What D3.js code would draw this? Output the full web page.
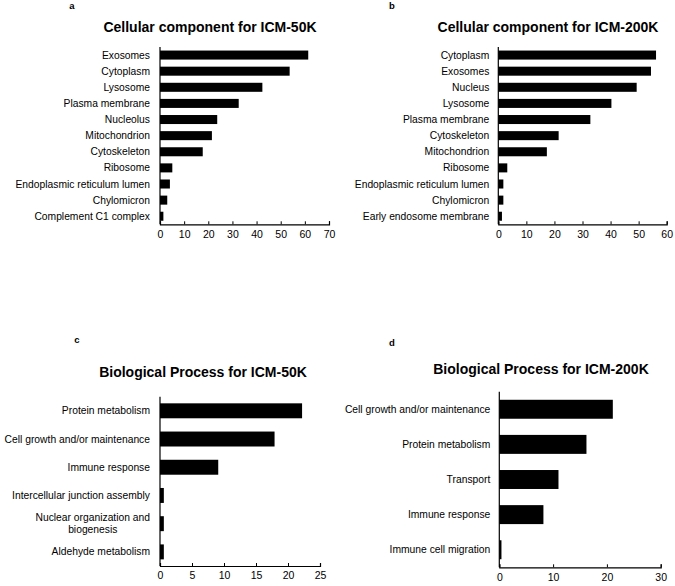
<!DOCTYPE html>
<html><head><meta charset="utf-8">
<script src="https://cdn.jsdelivr.net/npm/d3@7"></script>
<style>body{margin:0;background:#fff}svg{display:block;font-family:"Liberation Sans",Arial,sans-serif}</style>
</head><body><svg id="c" width="675" height="586"></svg>
<script>
const catsA = ["Exosomes","Cytoplasm","Lysosome","Plasma membrane","Nucleolus","Mitochondrion","Cytoskeleton","Ribosome","Endoplasmic reticulum lumen","Chylomicron","Complement C1 complex"];
const valsA = [61.4,53.7,42.4,32.6,23.7,21.5,17.7,5.1,4.1,3.0,1.4];
const ticksA = [0,10,20,30,40,50,60,70];

const catsB = ["Cytoplasm","Exosomes","Nucleus","Lysosome","Plasma membrane","Cytoskeleton","Mitochondrion","Ribosome","Endoplasmic reticulum lumen","Chylomicron","Early endosome membrane"];
const valsB = [56.2,54.4,49.3,40.3,32.8,21.5,17.3,3.2,1.8,1.8,1.3];
const ticksB = [0,10,20,30,40,50,60];

const catsC = ["Protein metabolism","Cell growth and/or maintenance","Immune response","Intercellular junction assembly","Nuclear organization and|biogenesis","Aldehyde metabolism"];
const valsC = [22.2,17.9,9.1,0.6,0.6,0.6];
const ticksC = [0,5,10,15,20,25];

const catsD = ["Cell growth and/or maintenance","Protein metabolism","Transport","Immune response","Immune cell migration"];
const valsD = [21.1,16.2,11.0,8.2,0.4];
const ticksD = [0,10,20,30];

const svg = d3.select("#c");

function panel(o){
  const g = svg.append("g");
  const x = d3.scaleLinear().domain([0, o.ticks[o.ticks.length-1]]).range([o.x0, o.x1]);
  const y = d3.scaleBand().domain(o.cats).range([o.yTop, o.yAxis]).paddingInner(o.pad).paddingOuter(o.pad/2);
  g.selectAll("rect").data(o.cats).join("rect")
    .attr("x", x(0)).attr("y", d => y(d))
    .attr("width", (d,i) => x(o.vals[i]) - x(0)).attr("height", y.bandwidth())
    .attr("fill", "#000");
  const ax = g.append("g").attr("transform", `translate(0,${o.yAxis})`)
    .call(d3.axisBottom(x).tickValues(o.ticks).tickSize(-3).tickSizeOuter(-3).tickPadding(o.tp).tickFormat(d3.format("d")));
  ax.select(".domain").attr("stroke", "#000").attr("stroke-width", 1.2);
  ax.selectAll(".tick line").attr("stroke", "#000");
  ax.selectAll("text").attr("font-size", 10.5).attr("font-family", '"Liberation Sans",Arial,sans-serif').attr("fill", "#000");
  g.append("line").attr("x1", o.x0).attr("x2", o.x0).attr("y1", o.yTop).attr("y2", o.yAxis)
    .attr("stroke", "#000").attr("stroke-width", 1.2);
  o.cats.forEach(c => {
    const lines = c.split("|");
    const cy = y(c) + y.bandwidth()/2;
    const t = g.append("text").attr("font-size", 10.3).attr("fill", "#000");
    if (lines.length === 1) {
      t.attr("x", o.x0 - o.lg).attr("y", cy).attr("dy", "0.35em").attr("text-anchor", "end").text(c);
    } else {
      const tmp = g.append("text").attr("font-size", 10.3).text(lines[0]);
      const w = tmp.node().getComputedTextLength(); tmp.remove();
      const cx = o.x0 - o.lg - w/2;
      lines.forEach((l, k) => {
        t.append("tspan").attr("x", cx).attr("y", cy + (k - (lines.length-1)/2) * 12).attr("dy", "0.35em")
          .attr("text-anchor", "middle").text(l);
      });
    }
  });
  g.append("text").attr("x", o.tx).attr("y", o.ty).attr("text-anchor", "middle").attr("dy", "0.35em")
    .attr("font-size", 14).attr("font-weight", "bold").text(o.title);
  g.append("text").attr("x", o.lx).attr("y", o.ly).attr("text-anchor", "middle").attr("dy", "0.35em")
    .attr("font-size", 9.5).attr("font-weight", "bold").text(o.letter);
}

panel({cats: catsA, vals: valsA, ticks: ticksA, x0: 160, x1: 329, yTop: 47, yAxis: 224.3, pad: 0.44, tp: 6, lg: 10,
  title: "Cellular component for ICM-50K", tx: 210, ty: 27, letter: "a", lx: 72, ly: 6});
panel({cats: catsB, vals: valsB, ticks: ticksB, x0: 498.3, x1: 666.7, yTop: 47, yAxis: 224.3, pad: 0.44, tp: 6, lg: 9,
  title: "Cellular component for ICM-200K", tx: 548, ty: 27, letter: "b", lx: 392, ly: 6});
panel({cats: catsC, vals: valsC, ticks: ticksC, x0: 160, x1: 320, yTop: 396.7, yAxis: 566, pad: 0.47, tp: 6, lg: 10,
  title: "Biological Process for ICM-50K", tx: 203, ty: 372, letter: "c", lx: 77, ly: 340});
panel({cats: catsD, vals: valsD, ticks: ticksD, x0: 499.3, x1: 660.7, yTop: 391.7, yAxis: 567.3, pad: 0.46, tp: 6, lg: 9,
  title: "Biological Process for ICM-200K", tx: 541, ty: 369, letter: "d", lx: 392, ly: 343});
</script></body></html>
